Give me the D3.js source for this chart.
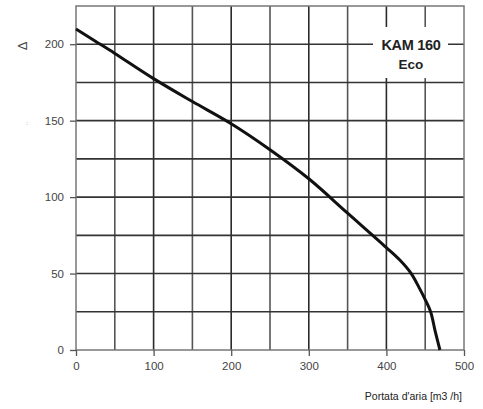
<!DOCTYPE html>
<html><head><meta charset="utf-8">
<script src="https://cdn.jsdelivr.net/npm/d3@7"></script>
<style>body{margin:0;background:#fff}svg{display:block}text{font-family:"Liberation Sans",Arial,sans-serif}</style>
</head><body>
<script>
const flowValues = [0, 25, 50, 100, 150, 200, 250, 300, 350, 400, 417, 432, 443, 450, 457, 463, 469];
const pressureValues = [210, 202, 194, 177.5, 162.5, 148, 131, 112, 89.5, 67, 59, 50, 40, 33, 25, 12, 0];
const xTicks = [0, 100, 200, 300, 400, 500];
const yTicks = [0, 50, 100, 150, 200];
const xGrid = [50, 100, 150, 200, 250, 300, 350, 400, 450];
const yGrid = [25, 50, 75, 100, 125, 150, 175, 200];
const labelLines = ["KAM 160", "Eco"];
const xTitle = "Portata d'aria [m3 /h]";

const W = 483, H = 409;
const m = {left: 76, top: 6, right: 464, bottom: 350};
const svg = d3.select("body").append("svg").attr("width", W).attr("height", H);
const x = d3.scaleLinear().domain([0, 500]).range([m.left, m.right]);
const y = d3.scaleLinear().domain([0, 225]).range([m.bottom, m.top]);

// grid
svg.append("g").selectAll("line").data(xGrid).join("line")
  .attr("x1", d => x(d)).attr("x2", d => x(d)).attr("y1", m.top).attr("y2", m.bottom)
  .attr("stroke", d => d % 100 === 0 ? "#2a2a2a" : "#555").attr("stroke-width", 1.6);
svg.append("g").selectAll("line").data(yGrid).join("line")
  .attr("x1", m.left).attr("x2", m.right).attr("y1", d => y(d)).attr("y2", d => y(d))
  .attr("stroke", "#333").attr("stroke-width", 1.6);

// label box (white background)
svg.append("rect").attr("x", 373).attr("y", 27).attr("width", 75).attr("height", 51).attr("fill", "#fff");
svg.append("text").attr("x", 411).attr("y", 50).attr("text-anchor", "middle")
  .attr("font-size", 14.5).attr("font-weight", "bold").attr("fill", "#222").attr("letter-spacing", -0.3).text(labelLines[0]);
svg.append("text").attr("x", 411).attr("y", 69).attr("text-anchor", "middle")
  .attr("font-size", 13.5).attr("font-weight", "bold").attr("fill", "#222").text(labelLines[1]);

// frame
svg.append("rect").attr("x", m.left).attr("y", m.top).attr("width", m.right - m.left).attr("height", m.bottom - m.top)
  .attr("fill", "none").attr("stroke", "#777").attr("stroke-width", 1.5);

// axes
const xAxis = svg.append("g").attr("transform", `translate(0,${m.bottom})`)
  .call(d3.axisBottom(x).tickValues(xTicks).tickSize(6).tickPadding(6));
const yAxis = svg.append("g").attr("transform", `translate(${m.left},0)`)
  .call(d3.axisLeft(y).tickValues(yTicks).tickSize(6).tickPadding(6));
[xAxis, yAxis].forEach(g => {
  g.select(".domain").remove();
  g.selectAll(".tick line").attr("stroke", "#555").attr("stroke-width", 1.3);
  g.selectAll(".tick text").attr("font-size", 11.5).attr("fill", "#444")
    .style("font-family", '"Liberation Sans",Arial,sans-serif');
});

// curve
const line = d3.line().x((d, i) => x(flowValues[i])).y(d => y(d)).curve(d3.curveCatmullRom.alpha(0.5));
svg.append("path").datum(pressureValues).attr("d", line)
  .attr("fill", "none").attr("stroke", "#111").attr("stroke-width", 3);

// axis titles
svg.append("text").attr("transform", "translate(27,46) rotate(-90)").attr("text-anchor", "middle")
  .attr("font-size", 13).attr("fill", "#444").text("Δ");
svg.append("text").attr("x", 27).attr("y", 125).attr("text-anchor", "middle")
  .attr("font-size", 6).attr("fill", "#666").text(":");
svg.append("text").attr("x", 462).attr("y", 400).attr("text-anchor", "end")
  .attr("font-size", 10.5).attr("fill", "#222").text(xTitle);
</script>
</body></html>
